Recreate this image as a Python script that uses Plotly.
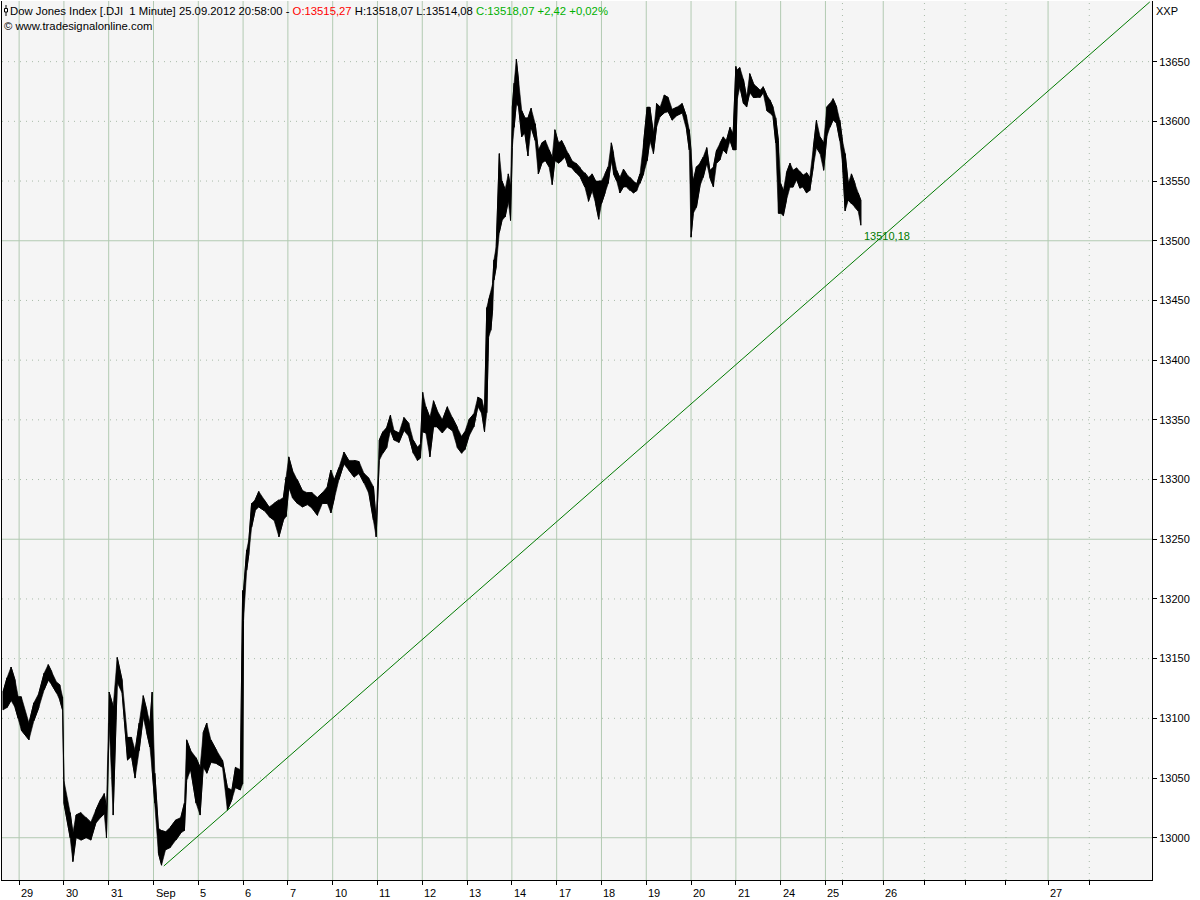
import plotly.graph_objects as go

# ---- data: time in trading days (0 = open of 29 Aug), 1-minute range envelope ----
t = [-0.36, -0.27, -0.18, -0.09, -0.02,
     0.05, 0.22, 0.33, 0.44, 0.56, 0.65, 0.73, 0.84, 0.91, 0.97,
     1.00, 1.14, 1.20, 1.27, 1.38, 1.49, 1.60, 1.71, 1.82, 1.90, 1.95,
     2.01, 2.10, 2.19, 2.30, 2.42, 2.51, 2.59, 2.68, 2.77, 2.85, 2.92, 2.97,
     3.03, 3.11, 3.18, 3.27, 3.38, 3.50, 3.61, 3.69, 3.74, 3.83, 3.95,
     4.04, 4.11, 4.19, 4.28, 4.41, 4.54, 4.65, 4.75, 4.83, 4.94,
     4.99, 5.01, 5.08, 5.13, 5.19, 5.27, 5.35, 5.47, 5.58, 5.69, 5.80, 5.90, 5.96,
     6.02, 6.10, 6.21, 6.32, 6.43, 6.54, 6.66, 6.77, 6.88, 6.96,
     7.04, 7.14, 7.25, 7.36, 7.48, 7.59, 7.70, 7.81, 7.91, 7.97,
     8.04, 8.12, 8.21, 8.29, 8.37, 8.48, 8.59, 8.70, 8.80, 8.89, 8.96,
     9.01, 9.08, 9.17, 9.25, 9.33, 9.45, 9.56, 9.67, 9.78, 9.88, 9.95,
     10.04, 10.15, 10.24, 10.33, 10.39, 10.44, 10.48, 10.53, 10.57, 10.60, 10.65,
     10.72, 10.78, 10.85, 10.92, 10.97,
     11.01, 11.05, 11.10, 11.15, 11.22, 11.29, 11.36, 11.43, 11.52, 11.59, 11.67,
     11.75, 11.83, 11.90, 11.96,
     12.04, 12.11, 12.19, 12.26, 12.34, 12.43, 12.53, 12.63, 12.71, 12.79, 12.87, 12.94,
     13.00, 13.08, 13.15, 13.22, 13.27, 13.34, 13.41, 13.49, 13.56, 13.64, 13.71,
     13.79, 13.86, 13.94,
     14.02, 14.08, 14.16, 14.23, 14.31, 14.40, 14.49, 14.58, 14.69, 14.80, 14.90, 14.96,
     15.00, 15.05, 15.12, 15.20, 15.27, 15.35, 15.42, 15.50, 15.57, 15.65, 15.72,
     15.79, 15.87, 15.94,
     16.00, 16.03, 16.09, 16.17, 16.24, 16.31, 16.39, 16.46, 16.54, 16.61, 16.69,
     16.76, 16.83, 16.89, 16.95,
     17.00, 17.06, 17.13, 17.21, 17.28, 17.36, 17.43, 17.50, 17.58, 17.65, 17.73,
     17.80, 17.88, 17.96,
     18.03, 18.10, 18.17, 18.25, 18.32, 18.38, 18.44, 18.51, 18.58, 18.66, 18.73, 18.79]

hi = [13122, 13134, 13143, 13132, 13118,
      13118, 13096, 13113, 13121, 13138, 13145, 13139, 13130, 13128, 13118,
      13048, 13021, 13004, 13019, 13021, 13017, 13013, 13023, 13032, 13037, 13025,
      13122, 13110, 13151, 13132, 13084, 13084, 13073, 13096, 13119, 13107, 13096, 13122,
      13054, 13008, 13006, 13005, 13009, 13015, 13017, 13029, 13082, 13073, 13067,
      13059, 13088, 13096, 13082, 13073, 13065, 13042, 13040, 13059, 13057,
      13207, 13207, 13241, 13250, 13280, 13283, 13290, 13283, 13277, 13280, 13283, 13285, 13302,
      13319, 13308, 13300, 13291, 13289, 13289, 13285, 13289, 13294, 13308,
      13300, 13310, 13323, 13316, 13316, 13315, 13305, 13301, 13294, 13266,
      13333, 13340, 13344, 13354, 13341, 13339, 13352, 13347, 13333, 13327, 13330,
      13373, 13361, 13352, 13366, 13358, 13350, 13361, 13352, 13344, 13336, 13340,
      13350, 13355, 13369, 13367, 13358, 13444, 13450, 13456, 13464, 13484, 13495,
      13573, 13550, 13543, 13556, 13545,
      13612, 13632, 13652, 13634, 13609, 13603, 13603, 13611, 13598, 13576, 13582,
      13584, 13576, 13570, 13593,
      13582, 13584, 13578, 13573, 13567, 13565, 13561, 13557, 13553, 13556, 13550, 13550,
      13550, 13556, 13562, 13582, 13573, 13559, 13553, 13560, 13556, 13553, 13550,
      13548, 13556, 13582,
      13612, 13612, 13590, 13615, 13612, 13622, 13620, 13610, 13612, 13615, 13604, 13593,
      13576, 13550, 13562, 13565, 13570, 13578, 13559, 13562, 13576, 13582, 13587,
      13584, 13595, 13590,
      13646, 13643, 13645, 13635, 13620, 13640, 13632, 13629, 13626, 13629, 13622,
      13618, 13612, 13603, 13584,
      13548, 13542, 13557, 13565, 13559, 13561, 13558, 13555, 13557, 13553, 13578,
      13601, 13587, 13582,
      13612, 13615, 13619, 13612, 13601, 13584, 13573, 13548, 13556, 13548, 13540, 13534]

lo = [13107, 13109, 13115, 13109, 13100,
      13090, 13082, 13098, 13109, 13124, 13132, 13128, 13121, 13115, 13107,
      13029, 13000, 12980, 13000, 12998, 13000, 12998, 13012, 13017, 13020, 13000,
      13096, 13019, 13130, 13121, 13065, 13068, 13050, 13073, 13101, 13088, 13076, 13057,
      13029, 12987, 12977, 12990, 12992, 12998, 13004, 13006, 13048, 13057, 13029,
      13019, 13059, 13054, 13063, 13062, 13059, 13023, 13032, 13042, 13040,
      13045, 13182, 13224, 13238, 13260, 13274, 13277, 13274, 13269, 13266, 13252, 13266, 13269,
      13293, 13285, 13280, 13277, 13279, 13276, 13270, 13280, 13280, 13272,
      13285, 13300, 13313, 13308, 13302, 13305, 13297, 13288, 13266, 13252,
      13316, 13322, 13327, 13341, 13333, 13331, 13341, 13336, 13322, 13316, 13318,
      13340, 13339, 13319, 13344, 13344, 13339, 13344, 13341, 13327, 13322, 13325,
      13336, 13344, 13361, 13355, 13340, 13356, 13419, 13425, 13442, 13467, 13478,
      13507, 13517, 13520, 13533, 13517,
      13578, 13595, 13615, 13612, 13587, 13590, 13571, 13595, 13584, 13556, 13565,
      13567, 13562, 13547, 13567,
      13565, 13567, 13570, 13562, 13561, 13557, 13553, 13545, 13533, 13542, 13531, 13518,
      13531, 13540, 13548, 13567, 13556, 13550, 13540, 13545, 13545, 13542, 13540,
      13542, 13548, 13556,
      13567, 13584, 13573, 13595, 13604, 13607, 13608, 13601, 13605, 13607, 13593, 13576,
      13503, 13523, 13528, 13546, 13553, 13565, 13553, 13545, 13565, 13568, 13576,
      13573, 13584, 13576,
      13576, 13618, 13629, 13615, 13612, 13624, 13620, 13620, 13620, 13624, 13609,
      13607, 13604, 13582, 13523,
      13523, 13521, 13534, 13545, 13545, 13551, 13544, 13545, 13540, 13542, 13562,
      13578, 13573, 13559,
      13587, 13595, 13601, 13598, 13584, 13565, 13525, 13534, 13531, 13528, 13525, 13513]

# day separators (trading-day units) and their labels
day_pos = [0, 1, 2, 3, 4, 5, 6, 7, 8, 9, 10, 11, 12, 13, 14, 15, 16, 17, 18, 19.29, 22.97]
day_lbl = ["29", "30", "31", "Sep", "5", "6", "7", "10", "11", "12", "13", "14",
           "17", "18", "19", "20", "21", "24", "25", "26", "27"]
minor_pos = [18.38, 20.21, 21.12, 22.03, 23.89]

price_ticks = list(range(13000, 13651, 50))
major_levels = [13000, 13250, 13500]

# XXP trend line anchored at the 4 Sep low
trend_t = [3.23, 25.24]
trend_v = [12976.3, 13700.0]

last_label = "13510,18"
last_label_t = 18.81
last_label_v = 13504

X_RANGE = [-0.382, 25.29]
Y_RANGE = [12964.6, 13700.8]

FONT = "Liberation Sans"
GRID = "#b2cab2"
DOT = "#a9bba9"

fig = go.Figure()
# range band (high/low envelope) plus a zig-zag through the highs and lows for texture
zx, zy = [], []
for i, (ti, h, l) in enumerate(zip(t, hi, lo)):
    zx += [ti, ti]
    zy += [l, h] if i % 2 == 0 else [h, l]
fig.add_trace(go.Scatter(
    x=t + t[::-1], y=hi + lo[::-1], mode="lines", fill="toself",
    fillcolor="black", line=dict(color="black", width=0.6), hoverinfo="skip"))
fig.add_trace(go.Scatter(
    x=zx, y=zy, mode="lines", line=dict(color="black", width=1), hoverinfo="skip"))
fig.add_trace(go.Scatter(
    x=trend_t, y=trend_v, mode="lines", line=dict(color="#007a00", width=1),
    hoverinfo="skip"))

shapes = []
for lv in price_ticks:
    major = lv in major_levels
    shapes.append(dict(type="line", xref="paper", x0=0, x1=1, yref="y", y0=lv, y1=lv,
                       layer="below",
                       line=dict(color=GRID if major else DOT, width=1,
                                 dash="solid" if major else "1px,5px")))
for p in day_pos:
    shapes.append(dict(type="line", xref="x", x0=p, x1=p, yref="paper", y0=0, y1=1,
                       layer="below", line=dict(color=GRID, width=1)))
for p in minor_pos:
    shapes.append(dict(type="line", xref="x", x0=p, x1=p, yref="paper", y0=0, y1=1,
                       layer="below", line=dict(color=DOT, width=1, dash="1px,5px")))
# small bar-chart icon in front of the title
shapes.append(dict(type="line", xref="paper", xsizemode="pixel", xanchor=0, x0=4, x1=4,
                   yref="paper", ysizemode="pixel", yanchor=1, y0=-4, y1=-15,
                   line=dict(color="black", width=1)))
shapes.append(dict(type="rect", xref="paper", xsizemode="pixel", xanchor=0, x0=2.5, x1=5.5,
                   yref="paper", ysizemode="pixel", yanchor=1, y0=-7.5, y1=-11,
                   line=dict(color="black", width=1), fillcolor="white"))

annotations = []
for p, lbl in zip(day_pos, day_lbl):
    annotations.append(dict(x=p, y=0, xref="x", yref="paper", text=lbl, showarrow=False,
                            xanchor="left", yanchor="top", xshift=0, yshift=-5,
                            font=dict(family=FONT, size=11, color="black")))
header = ("Dow Jones Index [.DJI\u00a0 1 Minute] 25.09.2012 20:58:00 - "
          "<span style='color:#ff0000'>O:13515,27</span> H:13518,07 L:13514,08 "
          "<span style='color:#00b000'>C:13518,07 +2,42 +0,02%</span>")
annotations.append(dict(x=0, y=1, xref="paper", yref="paper", text=header, showarrow=False,
                        xanchor="left", yanchor="top", xshift=6, yshift=-2,
                        font=dict(family=FONT, size=11.3, color="black")))
annotations.append(dict(x=0, y=1, xref="paper", yref="paper",
                        text="\u00a9 www.tradesignalonline.com", showarrow=False,
                        xanchor="left", yanchor="top", xshift=0, yshift=-17,
                        font=dict(family=FONT, size=11.3, color="black")))
annotations.append(dict(x=1, y=1, xref="paper", yref="paper", text="XXP", showarrow=False,
                        xanchor="left", yanchor="top", xshift=2, yshift=-2,
                        font=dict(family=FONT, size=11, color="black")))
annotations.append(dict(x=last_label_t, y=last_label_v, xref="x", yref="y", text=last_label,
                        showarrow=False, xanchor="left", yanchor="middle",
                        font=dict(family=FONT, size=11, color="#007a00")))

fig.update_layout(
    width=1200, height=900,
    margin=dict(l=2, r=48, t=1, b=20),
    paper_bgcolor="white", plot_bgcolor="#f5f5f5",
    showlegend=False,
    shapes=shapes, annotations=annotations,
    xaxis=dict(range=X_RANGE, showgrid=False, zeroline=False, showline=True,
               linecolor="black", linewidth=1, ticks="outside", ticklen=4,
               tickcolor="black", tickvals=sorted(day_pos + minor_pos),
               showticklabels=False, automargin=False, fixedrange=True),
    yaxis=dict(range=Y_RANGE, side="right", showgrid=False, zeroline=False,
               showline=True, mirror=True, linecolor="black", linewidth=1,
               ticks="outside", ticklen=4, tickcolor="black", tickvals=price_ticks,
               ticktext=[str(v) for v in price_ticks],
               tickfont=dict(family=FONT, size=11, color="black"),
               automargin=False, fixedrange=True),
)

fig.write_html("out.html", config={"displayModeBar": False},
               post_script="document.body.style.margin='0';")
